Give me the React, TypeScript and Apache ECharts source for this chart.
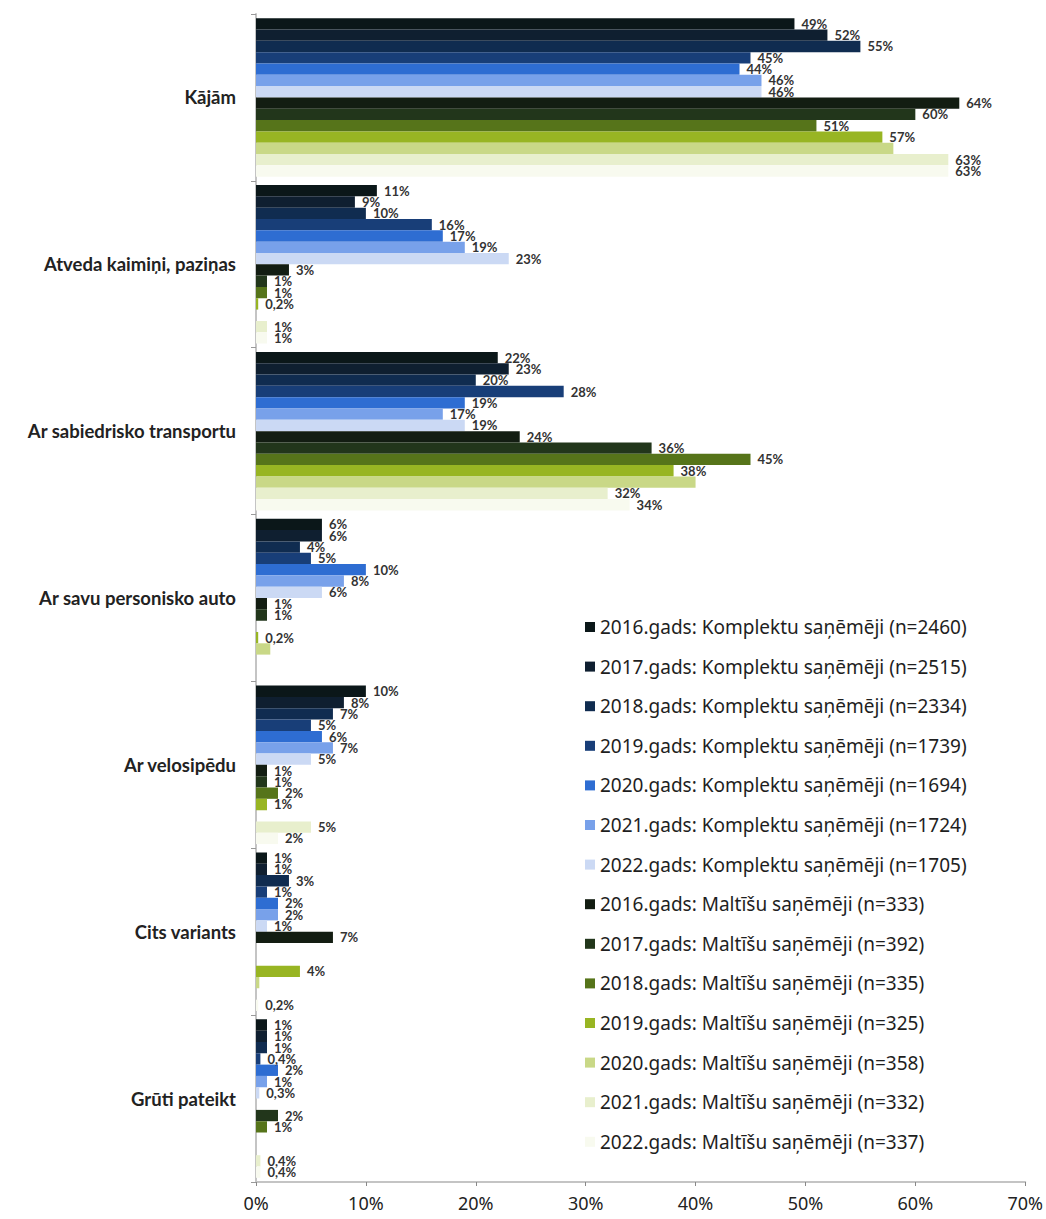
import React, { useEffect, useRef } from "react";
import * as echarts from "echarts";

const categories = [
  "Kājām",
  "Atveda kaimiņi, paziņas",
  "Ar sabiedrisko transportu",
  "Ar savu personisko auto",
  "Ar velosipēdu",
  "Cits variants",
  "Grūti pateikt",
];

const seriesNames = [
  "2016.gads: Komplektu saņēmēji (n=2460)",
  "2017.gads: Komplektu saņēmēji (n=2515)",
  "2018.gads: Komplektu saņēmēji (n=2334)",
  "2019.gads: Komplektu saņēmēji (n=1739)",
  "2020.gads: Komplektu saņēmēji (n=1694)",
  "2021.gads: Komplektu saņēmēji (n=1724)",
  "2022.gads: Komplektu saņēmēji (n=1705)",
  "2016.gads: Maltīšu saņēmēji (n=333)",
  "2017.gads: Maltīšu saņēmēji (n=392)",
  "2018.gads: Maltīšu saņēmēji (n=335)",
  "2019.gads: Maltīšu saņēmēji (n=325)",
  "2020.gads: Maltīšu saņēmēji (n=358)",
  "2021.gads: Maltīšu saņēmēji (n=332)",
  "2022.gads: Maltīšu saņēmēji (n=337)",
];

// Komplektu saņēmēji
const k2016 = [49, 11, 22, 6, 10, 1, 1];
const k2017 = [52, 9, 23, 6, 8, 1, 1];
const k2018 = [55, 10, 20, 4, 7, 3, 1];
const k2019 = [45, 16, 28, 5, 5, 1, 0.4];
const k2020 = [44, 17, 19, 10, 6, 2, 2];
const k2021 = [46, 19, 17, 8, 7, 2, 1];
const k2022 = [46, 23, 19, 6, 5, 1, 0.3];
// Maltīšu saņēmēji
const m2016 = [64, 3, 24, 1, 1, 7, null];
const m2017 = [60, 1, 36, 1, 1, null, 2];
const m2018 = [51, 1, 45, null, 2, null, 1];
const m2019 = [57, 0.2, 38, 0.2, 1, 4, null];
const m2020 = [58, null, 40, 1.3, null, 0.3, null];
const m2021 = [63, 1, 32, null, 5, null, 0.4];
const m2022 = [63, 1, 34, null, 2, 0.2, 0.4];

const seriesData = [k2016, k2017, k2018, k2019, k2020, k2021, k2022, m2016, m2017, m2018, m2019, m2020, m2021, m2022];
const labelShown = [true, true, true, true, true, true, true, true, true, true, true, false, true, true];

const colors = [
  "#0b1719", "#0f1f30", "#102c50", "#183e78", "#2e6dd2", "#78a1ea", "#cbd9f4",
  "#131d12", "#22361b", "#56741a", "#98b523", "#c9d887", "#e8efcd", "#f8faef",
];

const fmt = (v: number) => (v < 1 ? String(v).replace(".", ",") + "%" : Math.round(v) + "%");

export default function App() {
  const ref = useRef<HTMLDivElement>(null);
  useEffect(() => {
    if (!ref.current) return;
    const chart = echarts.init(ref.current, undefined, { renderer: "svg" });
    const font = "Lato, 'Noto Sans', sans-serif";
    const font2 = "'Noto Sans', sans-serif";
    chart.setOption({
      animation: false,
      backgroundColor: "#ffffff",
      textStyle: { fontFamily: font },
      grid: { left: 256, right: 19, top: 14, bottom: 37 },
      legend: {
        orient: "vertical",
        left: 580,
        top: 612,
        icon: "rect",
        itemWidth: 10,
        itemHeight: 10,
        itemGap: 19.6,
        textStyle: { fontSize: 19, lineHeight: 20, color: "#1e1e1e", fontFamily: font2 },
        data: seriesNames,
      },
      xAxis: {
        type: "value",
        min: 0,
        max: 70,
        interval: 10,
        axisLabel: { formatter: "{value}%", fontSize: 18, color: "#222", margin: 12, fontFamily: font2 },
        axisLine: { show: true, lineStyle: { color: "#c4c4c4", width: 2 } },
        axisTick: { show: true, length: 4, lineStyle: { color: "#888" } },
        splitLine: { show: false },
      },
      yAxis: {
        type: "category",
        inverse: true,
        data: categories,
        axisLabel: { fontSize: 18.5, fontWeight: "bold", color: "#222", margin: 20, fontFamily: font },
        axisLine: { show: true, lineStyle: { color: "#c4c4c4", width: 2 } },
        axisTick: { show: true, length: 5, lineStyle: { color: "#999" } },
      },
      series: seriesData.map((d, i) => ({
        name: seriesNames[i],
        type: "bar",
        data: d,
        barGap: "0%",
        barCategoryGap: "5%",
        itemStyle: { color: colors[i] },
        label: {
          show: labelShown[i],
          position: "right",
          distance: 7,
          fontSize: 13,
          fontWeight: "bold",
          color: "#333",
          fontFamily: font,
          formatter: (p: any) => fmt(p.value),
        },
      })),
    });
    return () => chart.dispose();
  }, []);
  return <div ref={ref} style={{ position: "fixed", left: 0, top: 0, width: 1046, height: 1219 }} />;
}
